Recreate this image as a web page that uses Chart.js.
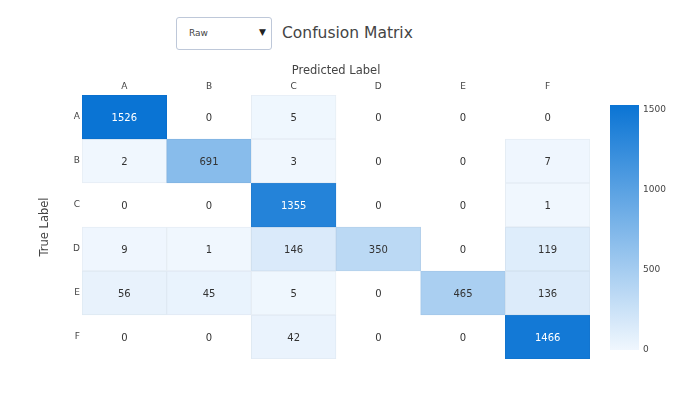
<!DOCTYPE html>
<html>
<head>
<meta charset="utf-8">
<script src="https://cdn.jsdelivr.net/npm/chart.js@4.4.1/dist/chart.umd.min.js"></script>
<style>
    html, body { margin: 0; padding: 0; background: #fff; }
    body { width: 700px; height: 399px; position: relative; overflow: hidden; font-family: "DejaVu Sans", Verdana, sans-serif; color: #444; }
    #matrixChart { position: absolute; left: 0; top: 0; }
    #scaleChart { position: absolute; left: 600px; top: 95px; }
    .dropdown { position: absolute; left: 176px; top: 17px; width: 94px; height: 31px; border: 1px solid #bec8d9; border-radius: 3px; background: #fff; }
    .dropdown .value { position: absolute; left: 12px; top: 10px; font-size: 9px; line-height: 11px; }
    .dropdown .arrow { position: absolute; left: 82px; top: 9px; font-size: 9px; line-height: 11px; color: #222; }
    .title { position: absolute; left: 282px; top: 23px; font-size: 15.5px; line-height: 20px; white-space: nowrap; }
</style>
</head>
<body>
<div class="dropdown"><span class="value">Raw</span><span class="arrow">&#9660;</span></div>
<div class="title">Confusion Matrix</div>
<canvas id="matrixChart" width="700" height="399"></canvas>
<canvas id="scaleChart" width="80" height="270"></canvas>
<script>
// Class names (predicted = columns, true = rows)
const classLabels = ['A', 'B', 'C', 'D', 'E', 'F'];

// Counts per true label, one entry per predicted label
const trueA = [1526, 0, 5, 0, 0, 0];
const trueB = [2, 691, 3, 0, 0, 7];
const trueC = [0, 0, 1355, 0, 0, 1];
const trueD = [9, 1, 146, 350, 0, 119];
const trueE = [56, 45, 5, 0, 465, 136];
const trueF = [0, 0, 42, 0, 0, 1466];
const matrixRows = [trueA, trueB, trueC, trueD, trueE, trueF];

// Colour bar ticks
const scaleTicks = [0, 500, 1000, 1500];
const scaleMax = Math.max(...matrixRows.flat());

const FONT = '"DejaVu Sans", Verdana, sans-serif';
const TEXT = '#444';
const lowColor = [240, 247, 254];
const highColor = [10, 116, 212];

function mix(t, k) {
    return lowColor.map((c, i) => Math.round((c + (highColor[i] - c) * t) * k));
}

function cellColor(v, k = 1) {
    if (v === 0) return k === 1 ? '#ffffff' : 'rgba(0,0,0,0)';
    const [r, g, b] = mix(v / scaleMax, k);
    return `rgb(${r},${g},${b})`;
}

// Each true label is one dataset of floating bars spanning one row
const n = classLabels.length;
const datasets = matrixRows.map((row, i) => ({
    label: classLabels[i],
    data: row.map(() => [n - 1 - i, n - i]),
    counts: row,
    backgroundColor: row.map(v => cellColor(v)),
    borderColor: row.map(v => cellColor(v, 0.96)),
    borderWidth: 1,
    borderSkipped: false,
    grouped: false,
    barPercentage: 1,
    categoryPercentage: 1
}));

// Write the count in the middle of each cell
const cellText = {
    id: 'cellText',
    afterDatasetsDraw(chart) {
        const ctx = chart.ctx;
        ctx.save();
        ctx.font = '10px ' + FONT;
        ctx.textAlign = 'center';
        ctx.textBaseline = 'middle';
        chart.data.datasets.forEach((ds, i) => {
            chart.getDatasetMeta(i).data.forEach((bar, j) => {
                const v = ds.counts[j];
                ctx.fillStyle = v / scaleMax > 0.6 ? '#fff' : '#333';
                ctx.fillText(String(v), bar.x, (bar.y + bar.base) / 2 + 1);
            });
        });
        ctx.restore();
    }
};

new Chart(document.getElementById('matrixChart'), {
    type: 'bar',
    data: { labels: classLabels, datasets: datasets },
    options: {
        responsive: false,
        animation: false,
        layout: { padding: { left: 0, top: 0, right: 110, bottom: 40 } },
        plugins: { legend: { display: false }, tooltip: { enabled: false } },
        scales: {
            x: {
                position: 'top',
                grid: { display: false, drawTicks: false },
                border: { display: false },
                ticks: { color: TEXT, font: { family: FONT, size: 9 }, padding: 3, maxRotation: 0 },
                title: {
                    display: true,
                    text: 'Predicted Label',
                    color: TEXT,
                    font: { family: FONT, size: 11.5 },
                    padding: { top: 64, bottom: 0 }
                },
                afterFit: (scale) => { scale.height = 95; }
            },
            y: {
                type: 'linear',
                min: 0,
                max: n,
                grid: { display: false, drawTicks: false },
                border: { display: false },
                afterBuildTicks: (scale) => {
                    scale.ticks = classLabels.map((c, i) => ({ value: n - 0.5 - i }));
                },
                ticks: {
                    color: TEXT,
                    font: { family: FONT, size: 9 },
                    padding: 2,
                    callback: (value) => classLabels[Math.round(n - 0.5 - value)]
                },
                title: {
                    display: true,
                    text: 'True Label',
                    color: TEXT,
                    font: { family: FONT, size: 11.5 },
                    padding: { top: 38, bottom: 0 }
                },
                afterFit: (scale) => { scale.width = 82; }
            }
        }
    },
    plugins: [cellText]
});

// Colour bar as a single floating bar filled with the colour scale
new Chart(document.getElementById('scaleChart'), {
    type: 'bar',
    data: {
        labels: ['count'],
        datasets: [{
            data: [[0, scaleMax]],
            backgroundColor: (context) => {
                const { ctx, chartArea } = context.chart;
                if (!chartArea) return null;
                const g = ctx.createLinearGradient(0, chartArea.bottom, 0, chartArea.top);
                g.addColorStop(0, `rgb(${lowColor.join(',')})`);
                g.addColorStop(1, `rgb(${highColor.join(',')})`);
                return g;
            },
            borderWidth: 0,
            barPercentage: 1,
            categoryPercentage: 1
        }]
    },
    options: {
        responsive: false,
        animation: false,
        layout: { padding: { left: 10, top: 10, right: 0, bottom: 15 } },
        plugins: { legend: { display: false }, tooltip: { enabled: false } },
        scales: {
            x: { display: false },
            y: {
                position: 'right',
                min: 0,
                max: scaleMax,
                grid: { display: false, drawTicks: false },
                border: { display: false },
                afterBuildTicks: (scale) => {
                    scale.ticks = scaleTicks.map(v => ({ value: v }));
                },
                ticks: {
                    color: TEXT,
                    font: { family: FONT, size: 9 },
                    padding: 4,
                    callback: (value) => String(value)
                },
                afterFit: (scale) => { scale.width = 41; }
            }
        }
    }
});
</script>
</body>
</html>
